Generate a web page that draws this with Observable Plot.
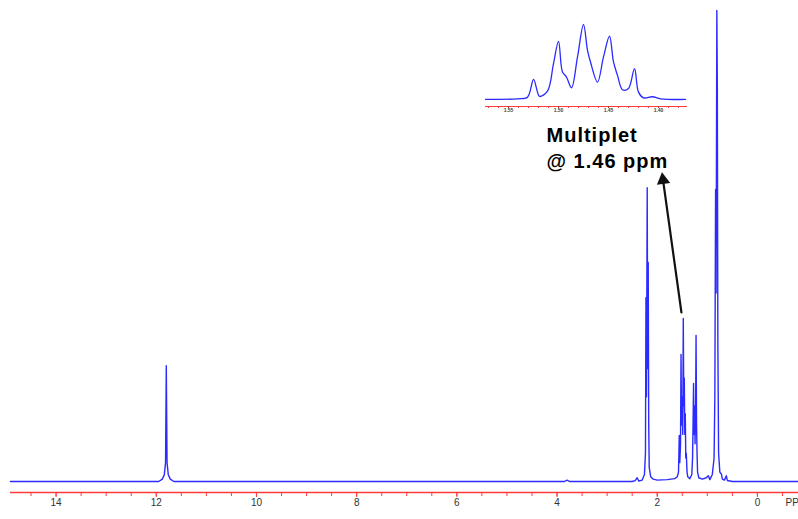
<!DOCTYPE html>
<html><head><meta charset="utf-8">
<script src="https://cdn.jsdelivr.net/npm/d3@7"></script>
<script src="https://cdn.jsdelivr.net/npm/@observablehq/plot@0.6"></script>
<style>
html,body{margin:0;padding:0;background:#fff;overflow:hidden;}
#wrap{position:relative;width:798px;height:519px;}
#inset{position:absolute;left:480px;top:10px;}
</style></head><body><div id="wrap"><div id="main"></div><div id="inset"></div></div>
<script>
// ---- main spectrum (ppm, relative intensity; tallest = 100) ----
const PPM = [14.91,11.95,11.88,11.84,11.815,11.8,11.785,11.76,11.72,11.65,
  3.85,3.8,3.75,
  2.5,2.44,2.4,2.37,2.3,2.255,2.235,2.225,2.215,2.2,2.19,2.18,2.17,2.16,2.13,2.08,2.0,1.8,1.65,1.6,
  1.575,1.56,1.55,1.535,1.525,1.515,1.5,1.49,1.48,1.47,1.46,1.45,1.44,1.43,1.42,1.405,1.39,
  1.35,1.31,1.295,1.285,1.275,1.265,1.255,1.245,1.235,1.225,1.215,1.205,1.195,1.17,1.1,1.02,0.98,0.95,
  0.9,0.865,0.85,0.835,0.825,0.81,0.8,0.79,0.775,0.75,0.72,0.70,0.66,0.62,0.6,0.5,-0.82];
const INTENSITY = [0,0,0.5,1.4,4,24.6,4,1.4,0.5,0,
  0,0.3,0,
  0,0.2,0.8,0.1,0.3,1.5,6,39,18,62.4,24,46.5,12,3,1,0.5,0.3,0.4,0.6,1,
  2,9.8,4,8,27,12,18,10,34.6,16,22,10,14.4,5,6,2,1,
  0.6,1.5,5,12,20.8,10,16,8,14,31,12,6,2,0.8,0.5,0.8,1.2,0.4,
  1.5,5,18,62,40,100,83,30,6,2,1.6,0.5,0.3,1.2,0.2,0,0];

// ---- inset: multiplet near 1.46 ppm ----
const INSET_PPM = [1.573,1.541,1.531,1.525,1.521,1.519,1.511,1.505,1.500,1.496,1.492,1.487,1.481,1.475,1.471,1.468,1.461,1.455,1.449,1.445,1.441,1.436,1.430,1.424,1.420,1.415,1.406,1.398,1.373];
const INSET_INT = [0,0.9,3.1,26.8,9.8,4.0,11.1,47.8,77.6,36.5,29.9,15.6,56.7,100,65.6,50,23.2,56.7,84.3,50,32.1,13,14.7,41.1,9.8,2.2,3.6,0.9,0];

// ---- axes ----
const X_DOMAIN = [14.91, -0.82];
const Y_FLOOR = -2.335;
const MAJOR_TICKS = [14, 12, 10, 8, 6, 4, 2, 0];
const MINOR_TICKS = [14.5,14,13.5,13,12.5,12,11.5,11,10.5,10,9.5,9,8.5,8,7.5,7,6.5,6,5.5,5,4.5,4,3.5,3,2.5,2,1.5,1,0.5,0,-0.5];
const UNIT_LABEL = [{ppm: -0.56, text: "PP"}];

const INSET_X_DOMAIN = [1.573, 1.371];
const INSET_Y_FLOOR = -9.4;
const INSET_MAJOR = [1.55, 1.50, 1.45, 1.40];
const INSET_MINOR = [1.57,1.56,1.55,1.54,1.53,1.52,1.51,1.50,1.49,1.48,1.47,1.46,1.45,1.44,1.43,1.42,1.41,1.40,1.39,1.38];

// ---- annotation ----
const NOTE = [{ppm: 4.21, y: 76.0, text: "Multiplet\n@ 1.46 ppm"}];
const ARROW = [{x1: 1.517, y1: 35.9, x2: 1.888, y2: 64.3}];
const ARROW_HEAD = [{ppm: 1.884, y: 64.0}];

const BLUE = "#2b2bff";
const RED = "#ff3b3b";
const FONT = "'Liberation Sans', Arial, Helvetica, sans-serif";

const spectrum = PPM.map((p, i) => ({ppm: p, intensity: INTENSITY[i]}));
const insetData = INSET_PPM.map((p, i) => ({ppm: p, intensity: INSET_INT[i]}));

const main = Plot.plot({
  width: 798, height: 519,
  marginLeft: 10, marginRight: 0, marginTop: 10, marginBottom: 27,
  style: {fontFamily: FONT, background: "transparent", overflow: "visible"},
  x: {domain: X_DOMAIN},
  y: {domain: [Y_FLOOR, 100], axis: null},
  marks: [
    Plot.ruleY([Y_FLOOR], {stroke: RED, strokeWidth: 1.3}),
    Plot.axisX({ticks: MINOR_TICKS, tickSize: 4, stroke: RED, tickFormat: () => "", label: null}),
    Plot.axisX({ticks: MAJOR_TICKS, tickSize: 5, tickPadding: 1, stroke: RED, fill: "#333", fontSize: 10, tickFormat: d => String(d), label: null}),
    Plot.text(UNIT_LABEL, {x: "ppm", y: Y_FLOOR, text: "text", dy: 6, textAnchor: "start", lineAnchor: "top", fontSize: 10, fill: "#333"}),
    Plot.line(spectrum, {x: "ppm", y: "intensity", stroke: BLUE, strokeWidth: 1.4}),
    Plot.arrow(ARROW, {x1: "x1", y1: "y1", x2: "x2", y2: "y2", stroke: "#111", strokeWidth: 2.2, headLength: 0}),
    Plot.dot(ARROW_HEAD, {x: "ppm", y: "y", symbol: "triangle", r: 5, rotate: -8, fill: "#111", stroke: "none"}),
    Plot.text(NOTE, {x: "ppm", y: "y", text: "text", textAnchor: "start", lineAnchor: "top", fontSize: 20, fontWeight: "bold", lineHeight: 1.3, fill: "#000"})
  ]
});
main.querySelectorAll("text").forEach(t => { if (t.textContent.includes("Multiplet")) t.setAttribute("letter-spacing", "1"); });
document.getElementById("main").appendChild(main);

const inset = Plot.plot({
  width: 215, height: 110,
  marginLeft: 5, marginRight: 8, marginTop: 14, marginBottom: 14,
  style: {fontFamily: FONT, background: "transparent", overflow: "visible"},
  x: {domain: INSET_X_DOMAIN, label: null},
  y: {domain: [INSET_Y_FLOOR, 100], axis: null},
  marks: [
    Plot.ruleY([INSET_Y_FLOOR], {stroke: RED, strokeWidth: 1.2}),
    Plot.axisX({ticks: INSET_MINOR, tickSize: 2, stroke: RED, tickFormat: () => "", label: null}),
    Plot.axisX({ticks: INSET_MAJOR, tickSize: 2, tickPadding: 0, stroke: "#a33", fill: "#444", fontSize: 5, fontWeight: "bold", tickFormat: d => d.toFixed(2), label: null}),
    Plot.line(insetData, {x: "ppm", y: "intensity", stroke: BLUE, strokeWidth: 1.3, curve: "catmull-rom"})
  ]
});
document.getElementById("inset").appendChild(inset);
</script>
</body></html>
